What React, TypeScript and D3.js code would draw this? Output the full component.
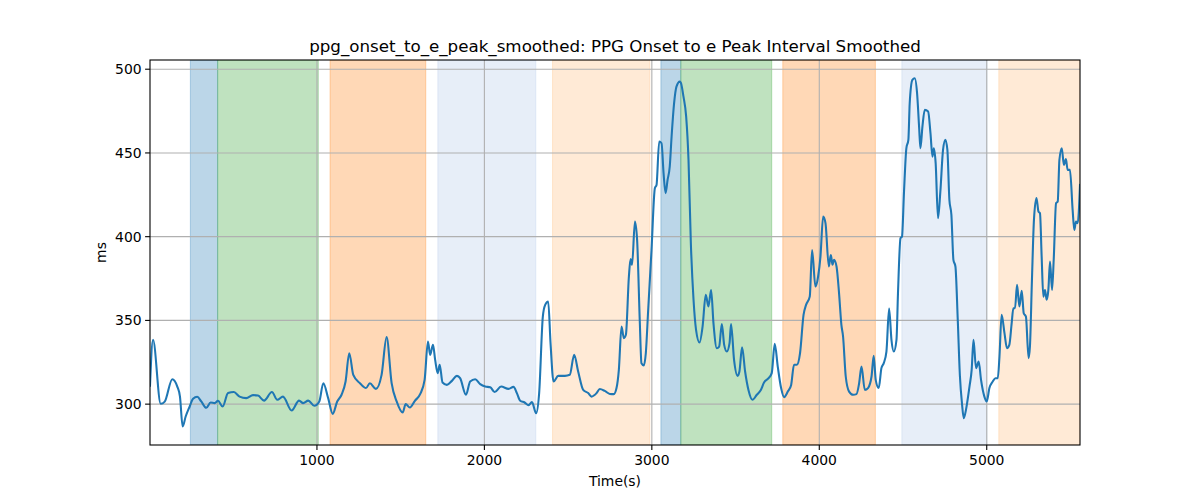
import React from "react";
import * as d3 from "d3";

const title = "ppg_onset_to_e_peak_smoothed: PPG Onset to e Peak Interval Smoothed";
const xLabel = "Time(s)";
const yLabel = "ms";
const xTicks = [1000, 2000, 3000, 4000, 5000];
const yTicks = [300, 350, 400, 450, 500];
const xDomain = [3, 5557];
const yDomain = [275.6, 505.5];

const times = [
  3, 21, 67, 91, 136, 166, 182, 198, 216, 240, 260, 285, 309, 339, 365, 389, 409, 437, 469, 504,
  538, 578, 618, 648, 684, 731, 763, 797, 849, 893, 918, 948, 984, 1014, 1038, 1067, 1094, 1121, 1147, 1171,
  1193, 1217, 1257, 1293, 1316, 1352, 1386, 1416, 1446, 1476, 1512, 1530, 1555, 1585, 1617, 1643, 1663, 1676, 1693, 1706,
  1721, 1733, 1750, 1776, 1806, 1836, 1855, 1890, 1915, 1945, 1975, 2005, 2035, 2061, 2100, 2144, 2174, 2194, 2214, 2240,
  2264, 2284, 2309, 2327, 2349, 2363, 2381, 2395, 2413, 2441, 2481, 2510, 2536, 2560, 2590, 2620, 2640, 2670, 2689, 2719,
  2749, 2773, 2789, 2803, 2819, 2833, 2845, 2863, 2873, 2882, 2899, 2912, 2928, 2938, 2952, 2964, 2978, 2998, 3018, 3028,
  3044, 3058, 3070, 3082, 3094, 3107, 3118, 3133, 3147, 3167, 3173, 3189, 3205, 3219, 3233, 3249, 3264, 3285, 3303, 3322,
  3338, 3354, 3368, 3388, 3402, 3418, 3432, 3448, 3464, 3473, 3491, 3512, 3523, 3539, 3557, 3577, 3601, 3627, 3651, 3670,
  3697, 3716, 3734, 3752, 3772, 3790, 3812, 3832, 3849, 3866, 3885, 3906, 3921, 3943, 3957, 3977, 3993, 4007, 4023, 4037,
  4057, 4069, 4079, 4088, 4103, 4118, 4132, 4142, 4158, 4178, 4202, 4222, 4238, 4252, 4272, 4291, 4312, 4325, 4337, 4355,
  4371, 4385, 4401, 4417, 4431, 4445, 4461, 4470, 4485, 4494, 4506, 4520, 4532, 4540, 4556, 4570, 4584, 4596, 4604, 4616,
  4630, 4650, 4664, 4676, 4684, 4695, 4709, 4723, 4739, 4753, 4765, 4777, 4789, 4801, 4813, 4827, 4840, 4852, 4863, 4876,
  4897, 4910, 4921, 4936, 4952, 4966, 4986, 5000, 5016, 5036, 5052, 5066, 5076, 5089, 5106, 5121, 5135, 5149, 5159, 5169,
  5181, 5195, 5209, 5221, 5234, 5250, 5258, 5270, 5282, 5297, 5309, 5318, 5328, 5338, 5348, 5358, 5368, 5378, 5390, 5400,
  5414, 5424, 5434, 5448, 5461, 5473, 5483, 5497, 5513, 5523, 5533, 5543, 5557,
];

const values = [
  311, 338.4, 300.2, 301.5, 314.9, 310.5, 304.5, 286.6, 292.6, 298.6, 303.2, 304.4, 301.6, 297.8, 301, 300.6, 302, 298.6, 306.6, 307.2,
  304.5, 303.6, 305.4, 305.1, 302.1, 307.2, 302.6, 304.5, 296.2, 302.1, 300.6, 302.1, 299, 301.6, 312.5, 303.6, 294.2, 301.6, 305.6, 313.5,
  330.4, 317.5, 312.5, 309.6, 312.5, 309.1, 317.5, 340, 312.5, 301.6, 295, 300, 298, 302, 306.1, 314.5, 337.4, 329.4, 335.4, 326.4,
  318.5, 323.5, 312.9, 311.5, 313.9, 316.9, 315.5, 305.6, 313.5, 314.9, 311.9, 310.5, 310.1, 307.2, 310.5, 309.1, 310.3, 306.6, 302, 301,
  299.4, 301.2, 294.6, 306.6, 352.3, 359.3, 361.3, 336.4, 313.5, 316.9, 316.9, 317.5, 329.4, 319.5, 308.5, 306.6, 304.5, 306.6, 309, 307.9,
  306.1, 306, 309.6, 320.5, 346.3, 339.4, 341.4, 376.2, 386.6, 383.2, 409, 398.1, 349.5, 324.4, 323.1, 330.4, 355.9, 392, 428.9, 430.9,
  456.8, 455.8, 437.9, 426, 433.9, 441.9, 459.8, 479.7, 489.6, 492.6, 492, 483.6, 471.7, 445.8, 396.1, 362.3, 344.4, 336.8, 346.3, 365.3,
  358.3, 368.2, 348.4, 333.4, 334.4, 347.8, 335.4, 331.4, 336.4, 347.9, 326.4, 316.9, 319.5, 334, 319.5, 308.5, 302.6, 305.6, 308.5, 312.9,
  315.5, 318.5, 336, 322.4, 309.6, 304.2, 307.5, 311.5, 323.5, 323.5, 330.4, 353.3, 359.3, 364.2, 392, 370.2, 376.2, 388.1, 412, 408.1,
  382.2, 389.1, 383.2, 386.2, 382.2, 366.3, 347.3, 340.4, 316.5, 307.5, 305.6, 306, 312.5, 322.4, 308.5, 309.6, 316.5, 328.8, 314.5, 309.6,
  321.5, 324.5, 331.4, 357.1, 338.4, 331.4, 338.4, 366.3, 399.1, 400.1, 426.9, 452.8, 457.8, 479.7, 493.6, 494.6, 485.7, 465.7, 452.8, 465.7,
  475.7, 474.7, 461.8, 447.8, 452.8, 443.9, 411, 426.9, 451.8, 457.8, 451.8, 421.9, 413, 386.2, 382.2, 350.3, 316.5, 300.6, 291.6, 296.6,
  310.5, 320.5, 338.4, 321.5, 325.4, 314.5, 304.5, 301.6, 309.6, 313.5, 315.5, 315.5, 328.4, 353.3, 342.4, 333.4, 335.4, 348.4, 357.3, 357.3,
  371.2, 358.3, 367.7, 354.3, 352.3, 327.5, 334.4, 374.2, 410, 423, 415, 414, 388.1, 364.2, 368.2, 362.3, 368.2, 385.1, 368.2, 386.2,
  420, 421, 445.8, 452.8, 442.9, 446.3, 439.9, 439.9, 416, 404, 409, 408, 430.9,
];

const spanStarts = [244, 407, 1078, 1722, 2407, 3054, 3173, 3782, 4493, 5072];
const spanEnds = [407, 1008, 1650, 2307, 2988, 3173, 3716, 4335, 5002, 5557];
const spanColors = ["#1f77b4", "#2ca02c", "#ff7f0e", "#aec7e8", "#ffbb78", "#1f77b4", "#2ca02c", "#ff7f0e", "#aec7e8", "#ffbb78"];

const W = 1200;
const H = 500;
const L = 150;
const R = 1080;
const T = 60;
const B = 445;
const FONT = "DejaVu Sans, sans-serif";

export default function App() {
  const x = d3.scaleLinear().domain(xDomain).range([L, R]);
  const y = d3.scaleLinear().domain(yDomain).range([B, T]);
  const pts: [number, number][] = times.map((t, i) => [t, values[i]]);
  const line = d3
    .line<[number, number]>()
    .x((d) => x(d[0]))
    .y((d) => y(d[1]))
    .curve(d3.curveMonotoneX);

  return (
    <div style={{ position: "absolute", left: 0, top: 0 }}>
      <svg width={W} height={H} style={{ display: "block", background: "#fff" }}>
        <defs>
          <clipPath id="plotclip">
            <rect x={L} y={T} width={R - L} height={B - T} />
          </clipPath>
        </defs>
        <g clipPath="url(#plotclip)">
          {spanStarts.map((s, i) => (
            <rect
              key={"span" + i}
              x={x(s)}
              y={T}
              width={x(spanEnds[i]) - x(s)}
              height={B - T}
              fill={spanColors[i]}
              fillOpacity={0.3}
              stroke={spanColors[i]}
              strokeOpacity={0.3}
              strokeWidth={1}
            />
          ))}
          {xTicks.map((t) => (
            <line key={"gx" + t} x1={x(t)} x2={x(t)} y1={T} y2={B} stroke="#b0b0b0" strokeWidth={1.1} />
          ))}
          {yTicks.map((t) => (
            <line key={"gy" + t} x1={L} x2={R} y1={y(t)} y2={y(t)} stroke="#b0b0b0" strokeWidth={1.1} />
          ))}
          <path d={line(pts) || ""} fill="none" stroke="#1f77b4" strokeWidth={2.08} strokeLinejoin="round" strokeLinecap="square" />
        </g>
        <rect x={L} y={T} width={R - L} height={B - T} fill="none" stroke="#000" strokeWidth={1.1} />
        {xTicks.map((t) => (
          <g key={"tx" + t}>
            <line x1={x(t)} x2={x(t)} y1={B} y2={B + 4.9} stroke="#000" strokeWidth={1.1} />
            <text x={x(t)} y={B + 19.5} fontFamily={FONT} fontSize={13.9} textAnchor="middle" fill="#000">
              {t}
            </text>
          </g>
        ))}
        {yTicks.map((t) => (
          <g key={"ty" + t}>
            <line x1={L - 4.9} x2={L} y1={y(t)} y2={y(t)} stroke="#000" strokeWidth={1.1} />
            <text x={L - 8.4} y={y(t)} dy="0.35em" fontFamily={FONT} fontSize={13.9} textAnchor="end" fill="#000">
              {t}
            </text>
          </g>
        ))}
        <text x={(L + R) / 2} y={486} fontFamily={FONT} fontSize={13.9} textAnchor="middle" fill="#000">
          {xLabel}
        </text>
        <text
          transform={`translate(106,${(T + B) / 2}) rotate(-90)`}
          fontFamily={FONT}
          fontSize={13.9}
          textAnchor="middle"
          fill="#000"
        >
          {yLabel}
        </text>
        <text x={(L + R) / 2} y={52} fontFamily={FONT} fontSize={16.7} textAnchor="middle" fill="#000">
          {title}
        </text>
      </svg>
    </div>
  );
}
